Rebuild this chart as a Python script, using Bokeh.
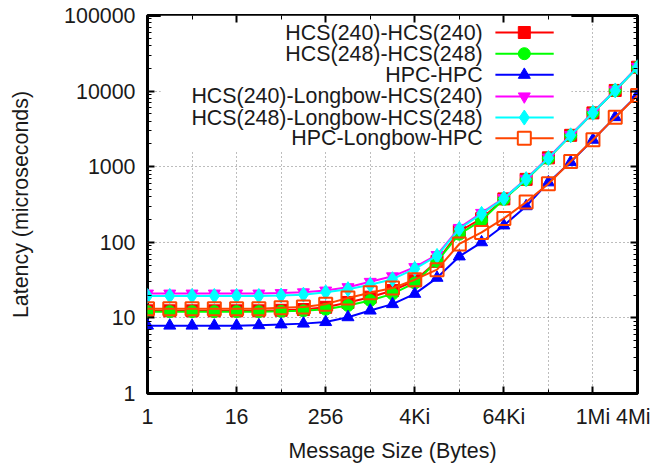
from bokeh.plotting import figure
from bokeh.models import (FixedTicker, LogAxis, Range1d, LinearScale,
                          CustomJSTickFormatter)
from bokeh.embed import file_html
from bokeh.resources import INLINE
from bokeh.core.properties import value

# ---------------- data ----------------
msg_size = [1, 2, 4, 8, 16, 32, 64, 128, 256, 512, 1024, 2048, 4096, 8192,
            16384, 32768, 65536, 131072, 262144, 524288, 1048576, 2097152, 4194304]

hcs240 = [12.4, 12.4, 12.4, 12.4, 12.4, 12.4, 12.6, 12.9, 13.8, 16.0, 18.8, 23.0,
          31.0, 56.0, 140, 205, 375, 680, 1310, 2600, 5150, 10200, 20700]
hcs248 = [12.1, 12.1, 12.1, 12.1, 12.1, 12.1, 12.2, 12.4, 13.0, 14.6, 17.0, 20.8,
          29.0, 56.0, 128, 195, 370, 670, 1290, 2580, 5150, 10150, 20600]
hpc = [7.9, 7.9, 7.9, 7.9, 7.9, 8.0, 8.2, 8.4, 8.8, 10.2, 12.5, 15.2,
       20.8, 33.9, 65, 100, 167, 300, 620, 1150, 2270, 4520, 8900]
hcs240_lb = [21.0, 21.0, 21.0, 21.0, 21.0, 21.0, 21.3, 21.8, 23.0, 25.5, 30.0, 35.5,
             47.0, 68.0, 155, 245, 385, 690, 1320, 2620, 5200, 10300, 20900]
hcs248_lb = [19.5, 19.5, 19.5, 19.5, 19.5, 19.5, 19.8, 20.3, 21.8, 24.0, 27.4, 32.5,
             44.6, 66.0, 150, 238, 380, 685, 1300, 2600, 5170, 10200, 20700]
hpc_lb = [13.2, 13.2, 13.2, 13.2, 13.2, 13.2, 13.6, 13.9, 15.2, 18.3, 21.5, 24.8,
          32.0, 43.5, 95, 135, 207, 340, 595, 1170, 2270, 4520, 8750]

series_names = ["HCS(240)-HCS(240)", "HCS(248)-HCS(248)", "HPC-HPC",
                "HCS(240)-Longbow-HCS(240)", "HCS(248)-Longbow-HCS(248)",
                "HPC-Longbow-HPC"]
series_values = [hcs240, hcs248, hpc, hcs240_lb, hcs248_lb, hpc_lb]

x_major_ticks = [1, 16, 256, 4096, 65536, 1048576, 4194304]
x_minor_ticks = [4, 64, 1024, 16384, 262144]
x_tick_labels = ["1", "16", "256", "4Ki", "64Ki", "1Mi", "4Mi"]
y_major_ticks = [1, 10, 100, 1000, 10000, 100000]

# ---------------- styles ----------------
colors = ["#ff0000", "#00ff00", "#0000ff", "#ff00ff", "#00ffff", "#ff4500"]
markers = ["square", "circle", "triangle", "inverted_triangle", "diamond", "square"]
msizes = [12, 12, 12, 12, 15, 13]
filled = [True, True, True, True, True, False]
FONT = "Liberation Sans"
FS = "21.4px"

p = figure(width=650, height=465, x_axis_type="log", y_axis_type="log",
           x_range=Range1d(1, 4194304), y_range=Range1d(1, 100000),
           output_backend="svg", toolbar_location=None,
           min_border_left=147, min_border_right=13,
           min_border_top=15, min_border_bottom=72)
p.background_fill_color = "white"
p.border_fill_color = "white"
p.outline_line_color = "black"
p.outline_line_width = 3

y_minor = [m * d for d in [1, 10, 100, 1000, 10000] for m in range(2, 10)]
xt = FixedTicker(ticks=x_major_ticks, minor_ticks=x_minor_ticks)
yt = FixedTicker(ticks=y_major_ticks, minor_ticks=y_minor)

label_map = ",".join(f"{v}:'{s}'" for v, s in zip(x_major_ticks, x_tick_labels))
xfmt = CustomJSTickFormatter(code="const m={" + label_map + "}; const k=Math.round(tick); return (k in m) ? m[k] : '';")
yfmt = CustomJSTickFormatter(code="return Math.round(tick).toString();")
blankfmt = CustomJSTickFormatter(code="return '';")

def style_axis(ax, labels=True):
    ax.axis_line_color = None
    ax.major_tick_in = 7
    ax.major_tick_out = 0
    ax.minor_tick_in = 4
    ax.minor_tick_out = 0
    ax.major_tick_line_width = 2
    ax.minor_tick_line_width = 1
    ax.major_tick_line_color = "black"
    ax.minor_tick_line_color = "black"
    if labels:
        ax.major_label_text_font = FONT
        ax.major_label_text_font_size = FS
        ax.major_label_text_color = "#1a1a1a"
        ax.axis_label_text_font = FONT
        ax.axis_label_text_font_size = FS
        ax.axis_label_text_font_style = "normal"
        ax.axis_label_text_color = "#1a1a1a"
    else:
        ax.formatter = blankfmt
        ax.major_label_text_font_size = "1px"
        ax.major_label_standoff = 0

xa = p.xaxis[0]
xa.ticker = xt
xa.formatter = xfmt
xa.axis_label = "Message Size (Bytes)"
style_axis(xa)
xa.major_label_standoff = 11
xa.axis_label_standoff = 7

ya = p.yaxis[0]
ya.ticker = yt
ya.formatter = yfmt
ya.axis_label = "Latency (microseconds)"
style_axis(ya)
ya.major_label_standoff = 12
ya.axis_label_standoff = 28

top = LogAxis(ticker=FixedTicker(ticks=x_major_ticks, minor_ticks=x_minor_ticks))
style_axis(top, labels=False)
p.add_layout(top, "above")
right = LogAxis(ticker=FixedTicker(ticks=y_major_ticks, minor_ticks=y_minor))
style_axis(right, labels=False)
p.add_layout(right, "right")

p.xgrid.ticker = xt
p.ygrid.ticker = yt
for g in (p.xgrid[0], p.ygrid[0]):
    g.grid_line_color = "#7a7a7a"
    g.grid_line_dash = "1 3"
    g.grid_line_width = 1
p.xgrid[0].minor_grid_line_color = "#7a7a7a"
p.xgrid[0].minor_grid_line_dash = "1 3"
p.xgrid[0].minor_grid_line_width = 1

# normalized frame coordinates for the key
p.extra_x_ranges = {"key": Range1d(0, 1)}
p.extra_y_ranges = {"key": Range1d(0, 1)}
p.extra_x_scales = {"key": LinearScale()}
p.extra_y_scales = {"key": LinearScale()}

# opaque key box (hides grid like gnuplot)
p.quad(left=[0.027], right=[0.865], bottom=[0.64], top=[1.0],
       fill_color="white", line_color=None,
       x_range_name="key", y_range_name="key")

for vals, c, m, s, f in zip(series_values, colors, markers, msizes, filled):
    p.line(msg_size, vals, line_color=c, line_width=2)
    if f:
        p.scatter(msg_size, vals, marker=m, size=s, fill_color=c, line_color=c)
    else:
        p.scatter(msg_size, vals, marker=m, size=s, fill_color=None,
                  line_color=c, line_width=2)

# key entries
key_rows = [0.955, 0.899, 0.843, 0.786, 0.730, 0.675]
text_x = 0.684
seg_x0, seg_x1, mark_x = 0.710, 0.829, 0.769
p.text(x=[text_x] * len(series_names), y=key_rows, text=series_names,
       text_align="right", text_baseline="middle",
       text_font=value(FONT), text_font_size=FS, text_color="#1a1a1a",
       x_range_name="key", y_range_name="key")
for yk, c, m, s, f in zip(key_rows, colors, markers, msizes, filled):
    p.segment(x0=[seg_x0], y0=[yk], x1=[seg_x1], y1=[yk], line_color=c,
              line_width=2, x_range_name="key", y_range_name="key")
    if f:
        p.scatter(x=[mark_x], y=[yk], marker=m, size=s, fill_color=c, line_color=c,
                  x_range_name="key", y_range_name="key")
    else:
        p.scatter(x=[mark_x], y=[yk], marker=m, size=s, fill_color="white",
                  line_color=c, line_width=2,
                  x_range_name="key", y_range_name="key")

open("out.html", "w").write(file_html(p, INLINE))
